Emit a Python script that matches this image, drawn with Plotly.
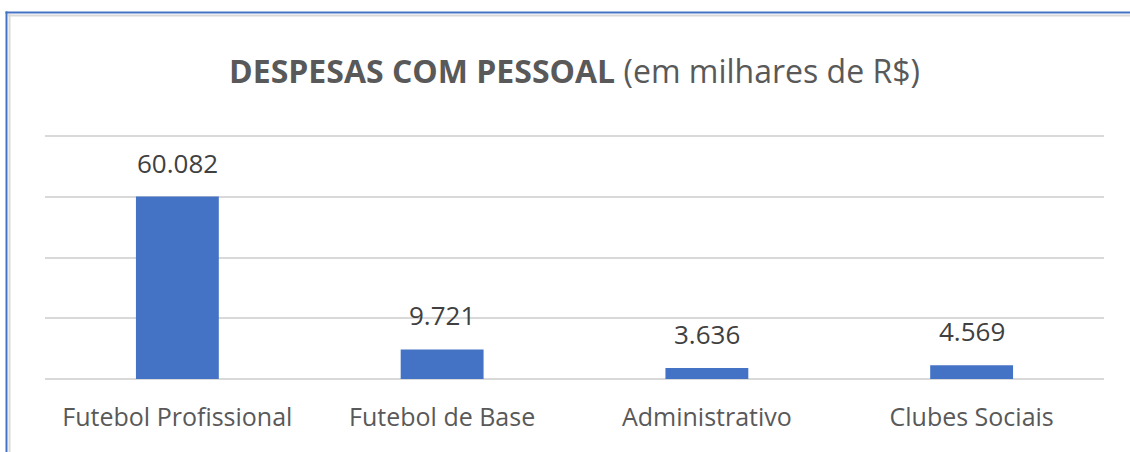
import plotly.graph_objects as go

categories = ["Futebol Profissional", "Futebol de Base", "Administrativo", "Clubes Sociais"]
values = [60082, 9721, 3636, 4569]

W, H = 1130, 452
YMAX = 82000
L, R, B = 45, 26, 73
ph = round(243 * YMAX / 80000)
T = H - B - ph
pw = W - L - R

def px_x(x):
    return (x - L) / pw

def px_y(y):
    return (H - B - y) / ph

fig = go.Figure()
fig.add_trace(go.Bar(
    x=categories, y=values,
    marker=dict(color="#4472C4", line=dict(width=0)),
    hoverinfo="skip",
))

for c, v in zip(categories, values):
    fig.add_annotation(x=c, y=v, text=f"{v:,.0f}".replace(",", "."), showarrow=False,
                       yanchor="middle", yshift=34,
                       font=dict(family="Open Sans", size=26, color="#404040"))

shapes = [
    dict(type="line", xref="paper", yref="paper", x0=px_x(8), x1=px_x(1130), y0=px_y(15.5), y1=px_y(15.5),
         line=dict(color="#d9d9d9", width=2)),
    dict(type="line", xref="paper", yref="paper", x0=px_x(9.5), x1=px_x(9.5), y0=px_y(14), y1=px_y(452),
         line=dict(color="#d9d9d9", width=2)),
    dict(type="line", xref="paper", yref="paper", x0=px_x(5.5), x1=px_x(1130), y0=px_y(12.5), y1=px_y(12.5),
         line=dict(color="#4472C4", width=2)),
    dict(type="line", xref="paper", yref="paper", x0=px_x(6.5), x1=px_x(6.5), y0=px_y(11.5), y1=px_y(452),
         line=dict(color="#4472C4", width=2)),
]

fig.update_layout(
    width=W, height=H,
    margin=dict(l=L, r=R, t=T, b=B),
    paper_bgcolor="white", plot_bgcolor="white",
    showlegend=False,
    bargap=0.687,
    title=dict(
        text="<b>DESPESAS COM PESSOAL</b> (em milhares de R$)",
        x=0.5, xref="paper", xanchor="center",
        y=1 - 72 / H, yanchor="middle",
        font=dict(family="Open Sans", size=32, color="#595959"),
    ),
    xaxis=dict(
        showgrid=False, zeroline=False, showline=False, ticks="",
        tickfont=dict(family="Open Sans", size=25, color="#595959"),
        ticklabelstandoff=21,
    ),
    yaxis=dict(
        range=[0, YMAX], tickvals=[0, 20000, 40000, 60000, 80000], showticklabels=False,
        showgrid=True, gridcolor="#d9d9d9", gridwidth=2,
        zeroline=True, zerolinecolor="#d9d9d9", zerolinewidth=2,
        showline=False, ticks="",
    ),
    shapes=shapes,
)

fig.write_html("out.html", config={"displayModeBar": False},
               post_script="document.body.style.margin='0px';document.body.style.padding='0px';")
